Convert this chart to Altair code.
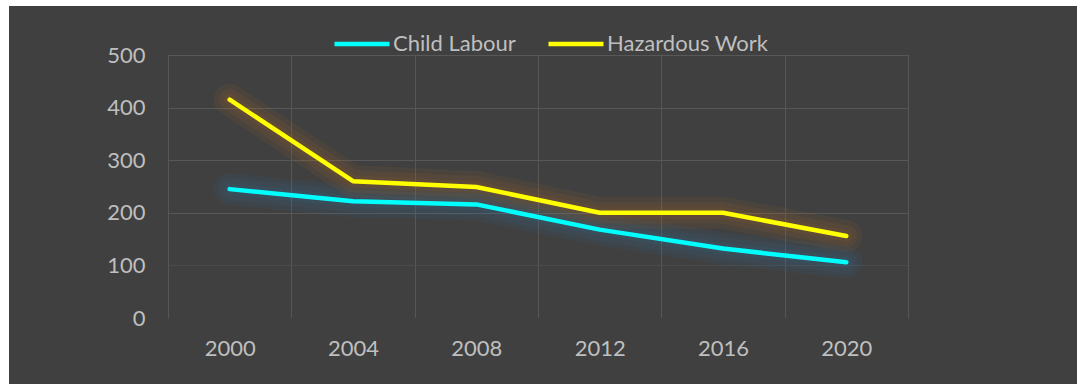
import altair as alt
import pandas as pd

years = [2000, 2004, 2008, 2012, 2016, 2020]
child_labour = [245, 222, 216, 168, 132, 106]
hazardous_work = [415, 260, 249, 200, 200, 156]
series_names = ["Child Labour", "Hazardous Work"]
line_colors = ["#00ffff", "#ffff00"]
glow_colors = ["#2286cc", "#d97a20"]
y_ticks = [0, 100, 200, 300, 400, 500]
x_grid = [1998, 2002, 2006, 2010, 2014, 2018, 2022]

rows = []
for y, v in zip(years, child_labour):
    rows.append({"year": y, "value": v, "series": series_names[0]})
for y, v in zip(years, hazardous_work):
    rows.append({"year": y, "value": v, "series": series_names[1]})
df = pd.DataFrame(rows)

W, H = 740, 263
FONT = "Lato"
LBL = "#bfbfbf"
BG = "#404040"
FS = 22
PB = 66
PR = 169

xscale = alt.Scale(domain=[1998, 2022], nice=False, zero=False)
yscale = alt.Scale(domain=[0, 500], nice=False)

base = alt.Chart(df)

x_grid_axis = alt.Axis(values=x_grid, grid=True, labels=False, ticks=False,
                       domain=False, title=None, orient="bottom",
                       gridColor="#565656", gridWidth=1)
y_axis = alt.Axis(values=y_ticks, grid=True, ticks=False, domain=False,
                  title=None, labelFont=FONT, labelFontSize=FS,
                  labelColor=LBL, labelPadding=23,
                  gridColor={"condition": [
                      {"test": "datum.value === 0", "value": BG},
                      {"test": "datum.value === 100", "value": "#4b4b4b"}],
                      "value": "#585858"},
                  gridWidth=1)

glow_layers = []
for name, gc in zip(series_names, glow_colors):
    for sw in [32, 22, 12]:
        glow_layers.append(
            base.transform_filter(alt.datum.series == name)
            .mark_line(strokeWidth=sw, opacity=0.075, color=gc,
                       strokeCap="round", strokeJoin="round")
            .encode(
                x=alt.X("year:Q", scale=xscale, axis=x_grid_axis),
                y=alt.Y("value:Q", scale=yscale, axis=y_axis),
            )
        )

main = base.mark_line(strokeWidth=4.5, strokeCap="round", strokeJoin="round").encode(
    x=alt.X("year:Q", scale=xscale,
            axis=alt.Axis(values=years, grid=False, ticks=False, domain=False, title=None,
                          format="d", labelFont=FONT, labelFontSize=FS, labelColor=LBL,
                          labelPadding=20, orient="bottom")),
    y=alt.Y("value:Q", scale=yscale),
    color=alt.Color("series:N", scale=alt.Scale(domain=series_names, range=line_colors),
                    legend=alt.Legend(title=None, orient="none", legendX=164, legendY=-41,
                                      direction="horizontal",
                                      symbolType="M-1,0L1,0", symbolSize=3025,
                                      symbolStrokeWidth=4.5, labelLimit=400,
                                      labelFont=FONT, labelFontSize=FS, labelColor=LBL,
                                      labelOffset=1, columnPadding=23)),
)

strip = alt.Chart(alt.Data(values=[{"a": 1}]))
left_strip = strip.mark_rect(color="white").encode(
    x=alt.value(-168), x2=alt.value(-159), y=alt.value(-55), y2=alt.value(H + PB))
top_strip = strip.mark_rect(color="white").encode(
    x=alt.value(-168), x2=alt.value(W + PR), y=alt.value(-55), y2=alt.value(-49))

chart = alt.layer(*glow_layers, main, left_strip, top_strip).resolve_axis(
    x="independent"
).properties(
    width=W, height=H,
    autosize=alt.AutoSizeParams(type="none"),
    padding={"left": 168, "top": 55, "right": PR, "bottom": PB},
    background=BG,
).configure_view(stroke=None)

chart.save("out.html", embed_options={"renderer": "svg", "actions": False})
